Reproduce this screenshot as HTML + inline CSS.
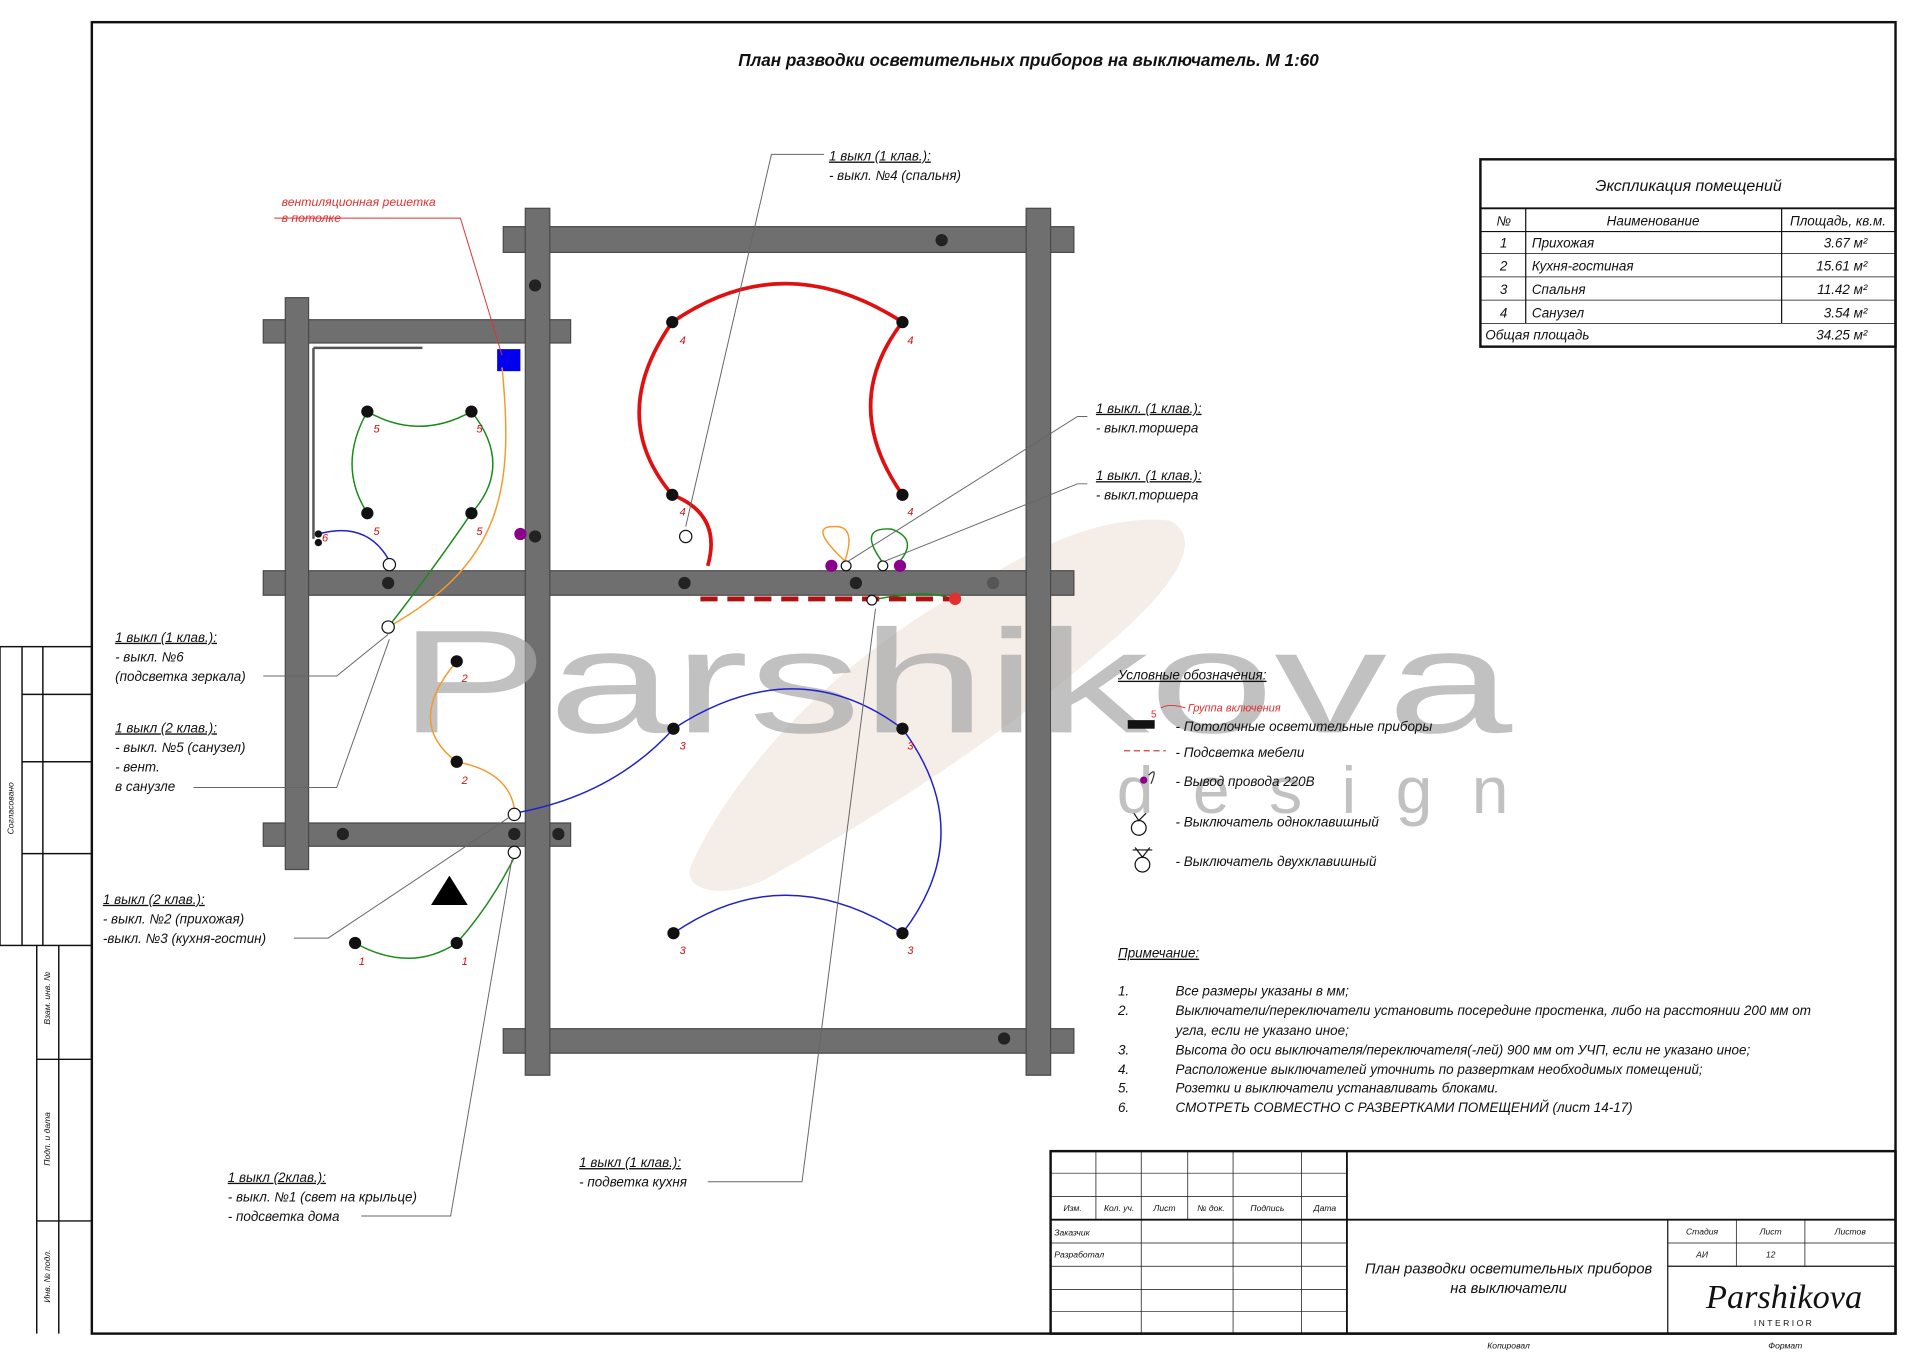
<!DOCTYPE html>
<html><head><meta charset="utf-8"><style>
html,body{margin:0;padding:0;background:#fff}
svg{display:block}
text{font-family:"Liberation Sans","DejaVu Sans",sans-serif;font-style:italic}
</style></head><body>
<svg width="1920" height="1357" viewBox="0 0 1568 1108" xmlns="http://www.w3.org/2000/svg" fill="#111">
<rect width="1568" height="1108" fill="#fff"/>
<!-- frame -->
<rect x="75" y="18" width="1473" height="1071" fill="none" stroke="#111" stroke-width="2"/>
<g stroke="#111" stroke-width="1.2" fill="none">
<rect x="0" y="528" width="75" height="244"/>
<line x1="18" y1="528" x2="18" y2="772"/><line x1="35" y1="528" x2="35" y2="772"/>
<line x1="18" y1="567" x2="75" y2="567"/><line x1="18" y1="622" x2="75" y2="622"/><line x1="18" y1="697" x2="75" y2="697"/>
<line x1="30" y1="772" x2="30" y2="1089"/><line x1="48" y1="772" x2="48" y2="1089"/>
<line x1="30" y1="865" x2="75" y2="865"/><line x1="30" y1="997" x2="75" y2="997"/>
</g>
<text transform="translate(11,660) rotate(-90)" font-size="7" text-anchor="middle">Согласовано</text>
<text transform="translate(41,815) rotate(-90)" font-size="7" text-anchor="middle">Взам. инв. №</text>
<text transform="translate(41,930) rotate(-90)" font-size="7" text-anchor="middle">Подп. и дата</text>
<text transform="translate(41,1042) rotate(-90)" font-size="7" text-anchor="middle">Инв. № подл.</text>

<text x="840" y="54" font-size="14" text-anchor="middle" font-weight="bold">План разводки осветительных приборов на выключатель. М 1:60</text>

<!-- watermark brush -->
<path d="M565 705 C610 610 700 530 790 480 C850 445 900 420 955 425 C985 440 960 480 900 530 C820 600 720 665 625 718 C590 735 555 728 565 705 Z" fill="#f5eee8"/>

<!-- walls -->
<g fill="#6f6f6f" stroke="#4a4a4a" stroke-width="1">
<rect x="411" y="185" width="466" height="21"/>
<rect x="215" y="261" width="251" height="19"/>
<rect x="215" y="466" width="662" height="20"/>
<rect x="215" y="672" width="251" height="19"/>
<rect x="411" y="840" width="466" height="20"/>
<rect x="838" y="170" width="20" height="708"/>
<rect x="429" y="170" width="20" height="708"/>
<rect x="233" y="243" width="19" height="467"/>
</g>
<path d="M256 284 H345 M256 284 V440" stroke="#555" stroke-width="2" fill="none"/>
<g fill="#222">
<circle cx="437" cy="233" r="5"/><circle cx="769" cy="196" r="5"/><circle cx="437" cy="438" r="5"/>
<circle cx="559" cy="476" r="5"/><circle cx="699" cy="476" r="5"/><circle cx="811" cy="476" r="5" fill="#555"/>
<circle cx="317" cy="476" r="5"/><circle cx="280" cy="681" r="5"/><circle cx="420" cy="681" r="5"/>
<circle cx="456" cy="681" r="5"/><circle cx="820" cy="848" r="5"/>
</g>
<rect x="406" y="285" width="19" height="18" fill="#0000ee"/>

<!-- watermark text -->
<text x="325" y="598" font-size="120" fill="#a6a6a6" fill-opacity="0.7" style="font-style:normal" textLength="910" lengthAdjust="spacingAndGlyphs">Parshikova</text>
<text x="912" y="664" font-size="54" fill="#a6a6a6" fill-opacity="0.7" style="font-style:normal" textLength="320" lengthAdjust="spacing">design</text>

<!-- wires -->
<g fill="none" stroke-width="1.2">
<path d="M300 336 Q342 360 385 336" stroke="#1a8a1a"/>
<path d="M300 336 Q275 380 300 419" stroke="#1a8a1a"/>
<path d="M385 336 Q420 380 385 419" stroke="#1a8a1a"/>
<path d="M385 419 Q350 470 317 512" stroke="#1a8a1a"/>
<path d="M410 300 C420 400 410 460 317 512" stroke="#f59a2a"/>
<path d="M260 436 Q300 425 318 458" stroke="#2020cc"/>
<path d="M373 540 Q330 590 373 622" stroke="#f59a2a"/>
<path d="M373 622 Q415 630 420 660" stroke="#f59a2a"/>
<path d="M420 664 Q500 650 550 595" stroke="#2020cc"/>
<path d="M550 595 Q650 530 737 595" stroke="#2020cc"/>
<path d="M737 595 Q800 680 737 762" stroke="#2020cc"/>
<path d="M550 762 Q640 700 737 762" stroke="#2020cc"/>
<path d="M420 700 Q400 740 373 770 Q335 795 290 770" stroke="#1a8a1a"/>
<path d="M549 404 Q590 420 578 462" stroke="#e01010" stroke-width="3"/>
<path d="M549 263 Q495 340 549 404" stroke="#e01010" stroke-width="3"/>
<path d="M549 263 Q640 200 737 263" stroke="#e01010" stroke-width="3"/>
<path d="M737 263 Q685 330 737 404" stroke="#e01010" stroke-width="3"/>
<path d="M690 458 Q660 430 680 430 Q700 428 690 458" stroke="#f59a2a"/>
<path d="M720 458 Q700 430 728 432 Q750 440 735 458" stroke="#1a8a1a"/>
<path d="M712 490 Q760 480 780 490" stroke="#1a8a1a"/>
<path d="M572 489 H780" stroke="#b01010" stroke-width="4" stroke-dasharray="14 8"/>
</g>
<circle cx="780" cy="489" r="5" fill="#e03030"/>
<!-- lamps -->
<g fill="#111">
<circle cx="300" cy="336" r="5"/><circle cx="385" cy="336" r="5"/><circle cx="300" cy="419" r="5"/><circle cx="385" cy="419" r="5"/>
<circle cx="373" cy="540" r="5"/><circle cx="373" cy="622" r="5"/>
<circle cx="549" cy="263" r="5"/><circle cx="737" cy="263" r="5"/><circle cx="549" cy="404" r="5"/><circle cx="737" cy="404" r="5"/>
<circle cx="550" cy="595" r="5"/><circle cx="737" cy="595" r="5"/><circle cx="550" cy="762" r="5"/><circle cx="737" cy="762" r="5"/>
<circle cx="290" cy="770" r="5"/><circle cx="373" cy="770" r="5"/>
<circle cx="260" cy="436" r="3"/><circle cx="260" cy="443" r="3"/>
</g>
<g fill="#8a008a"><circle cx="425" cy="436" r="5"/><circle cx="679" cy="462" r="5"/><circle cx="735" cy="462" r="5"/></g>
<g fill="#fff" stroke="#111" stroke-width="1">
<circle cx="318" cy="461" r="5"/><circle cx="317" cy="512" r="5"/><circle cx="420" cy="665" r="5"/><circle cx="420" cy="696" r="5"/>
<circle cx="560" cy="438" r="5"/><circle cx="691" cy="462" r="4"/><circle cx="721" cy="462" r="4"/><circle cx="712" cy="490" r="4"/>
</g>
<g font-size="9" fill="#d01010" style="font-style:normal">
<text x="305" y="353">5</text><text x="389" y="353">5</text><text x="305" y="437">5</text><text x="389" y="437">5</text>
<text x="263" y="442">6</text>
<text x="377" y="557">2</text><text x="377" y="640">2</text>
<text x="555" y="281">4</text><text x="741" y="281">4</text><text x="555" y="421">4</text><text x="741" y="421">4</text>
<text x="555" y="612">3</text><text x="741" y="612">3</text><text x="555" y="779">3</text><text x="741" y="779">3</text>
<text x="293" y="788">1</text><text x="377" y="788">1</text>
</g>
<polygon points="367,715 352,739 382,739" fill="#000"/>

<!-- leader lines -->
<g stroke="#666" stroke-width="0.8" fill="none">
<path d="M224 178 H376 L410 290" stroke="#e03030"/>
<path d="M673 126 H630 L560 430"/>
<path d="M888 340 H880 L693 458"/>
<path d="M888 395 H880 L723 458"/>
<path d="M215 552 H275 L317 518"/>
<path d="M158 643 H275 L318 522"/>
<path d="M240 766 H268 L415 668"/>
<path d="M295 993 H368 L418 702"/>
<path d="M578 965 H655 L715 497"/>
</g>
<g font-size="11">
<text x="230" y="168" fill="#e03030" font-size="10">вентиляционная решетка</text>
<text x="230" y="181" fill="#e03030" font-size="10">в потолке</text>
<text x="677" y="131" text-decoration="underline">1 выкл (1 клав.):</text>
<text x="677" y="147">- выкл. №4 (спальня)</text>
<text x="895" y="337" text-decoration="underline">1 выкл. (1 клав.):</text>
<text x="895" y="353">- выкл.торшера</text>
<text x="895" y="392" text-decoration="underline">1 выкл. (1 клав.):</text>
<text x="895" y="408">- выкл.торшера</text>
<text x="94" y="524" text-decoration="underline">1 выкл (1 клав.):</text>
<text x="94" y="540">- выкл. №6</text>
<text x="94" y="556">(подсветка зеркала)</text>
<text x="94" y="598" text-decoration="underline">1 выкл (2 клав.):</text>
<text x="94" y="614">- выкл. №5 (санузел)</text>
<text x="94" y="630">- вент.</text>
<text x="94" y="646">в санузле</text>
<text x="84" y="738" text-decoration="underline">1 выкл (2 клав.):</text>
<text x="84" y="754">- выкл. №2 (прихожая)</text>
<text x="84" y="770">-выкл. №3 (кухня-гостин)</text>
<text x="186" y="965" text-decoration="underline">1 выкл (2клав.):</text>
<text x="186" y="981">- выкл. №1 (свет на крыльце)</text>
<text x="186" y="997">- подсветка дома</text>
<text x="473" y="953" text-decoration="underline">1 выкл (1 клав.):</text>
<text x="473" y="969">- подветка кухня</text>
</g>

<!-- legend -->
<g font-size="11">
<text x="913" y="555" text-decoration="underline">Условные обозначения:</text>
<text x="970" y="581" fill="#e03030" font-size="9">Группа включения</text>
<text x="940" y="586" fill="#e03030" font-size="8" style="font-style:normal">5</text>
<path d="M948 578 Q955 574 968 578" stroke="#e03030" fill="none" stroke-width="0.8"/>
<rect x="921" y="588" width="22" height="7" fill="#111"/>
<text x="960" y="597">- Потолочные осветительные приборы</text>
<path d="M918 613 H952" stroke="#d04040" stroke-dasharray="5 3"/>
<text x="960" y="618">- Подсветка мебели</text>
<path d="M938 633 Q946 625 940 640" stroke="#333" fill="none"/>
<circle cx="934" cy="637" r="3" fill="#8a008a"/>
<text x="960" y="642">- Вывод провода 220В</text>
<circle cx="930" cy="676" r="6" fill="#fff" stroke="#111"/>
<path d="M926 664 L930 670 L936 664" stroke="#111" fill="none"/>
<text x="960" y="675">- Выключатель одноклавишный</text>
<circle cx="933" cy="706" r="6" fill="#fff" stroke="#111"/>
<path d="M927 692 L933 700 L939 692 M925 694 H941" stroke="#111" fill="none"/>
<text x="960" y="707">- Выключатель двухклавишный</text>
<text x="913" y="782" text-decoration="underline">Примечание:</text>
<text x="913" y="813">1.</text><text x="960" y="813">Все размеры указаны в мм;</text>
<text x="913" y="829">2.</text><text x="960" y="829">Выключатели/переключатели установить посередине простенка, либо на расстоянии 200 мм от</text>
<text x="960" y="845">угла, если не указано иное;</text>
<text x="913" y="861">3.</text><text x="960" y="861">Высота до оси выключателя/переключателя(-лей) 900 мм от УЧП, если не указано иное;</text>
<text x="913" y="877">4.</text><text x="960" y="877">Расположение выключателей уточнить по разверткам необходимых помещений;</text>
<text x="913" y="892">5.</text><text x="960" y="892">Розетки и выключатели устанавливать блоками.</text>
<text x="913" y="908">6.</text><text x="960" y="908">СМОТРЕТЬ СОВМЕСТНО С РАЗВЕРТКАМИ ПОМЕЩЕНИЙ (лист 14-17)</text>
</g>

<!-- explication table -->
<g stroke="#111" fill="none">
<rect x="1209" y="130" width="339" height="153" stroke-width="2"/>
<line x1="1209" y1="170" x2="1548" y2="170" stroke-width="1.5"/>
<line x1="1209" y1="189" x2="1548" y2="189" stroke-width="1"/>
<line x1="1209" y1="207" x2="1548" y2="207" stroke-width="0.6"/>
<line x1="1209" y1="226" x2="1548" y2="226" stroke-width="0.6"/>
<line x1="1209" y1="245" x2="1548" y2="245" stroke-width="0.6"/>
<line x1="1209" y1="264" x2="1548" y2="264" stroke-width="0.6"/>
<line x1="1246" y1="170" x2="1246" y2="264"/>
<line x1="1455" y1="170" x2="1455" y2="264"/>
</g>
<g font-size="11">
<text x="1379" y="156" text-anchor="middle" font-size="13">Экспликация помещений</text>
<text x="1228" y="184" text-anchor="middle">№</text>
<text x="1350" y="184" text-anchor="middle">Наименование</text>
<text x="1501" y="184" text-anchor="middle">Площадь, кв.м.</text>
<text x="1228" y="202" text-anchor="middle">1</text><text x="1251" y="202">Прихожая</text><text x="1525" y="202" text-anchor="end">3.67 м²</text>
<text x="1228" y="221" text-anchor="middle">2</text><text x="1251" y="221">Кухня-гостиная</text><text x="1525" y="221" text-anchor="end">15.61 м²</text>
<text x="1228" y="240" text-anchor="middle">3</text><text x="1251" y="240">Спальня</text><text x="1525" y="240" text-anchor="end">11.42 м²</text>
<text x="1228" y="259" text-anchor="middle">4</text><text x="1251" y="259">Санузел</text><text x="1525" y="259" text-anchor="end">3.54 м²</text>
<text x="1213" y="277">Общая площадь</text><text x="1525" y="277" text-anchor="end">34.25 м²</text>
</g>

<!-- title block -->
<g stroke="#111" fill="none">
<rect x="858" y="940" width="690" height="149" stroke-width="2"/>
<line x1="858" y1="996" x2="1548" y2="996" stroke-width="1.5"/>
<line x1="1100" y1="940" x2="1100" y2="1089" stroke-width="1.5"/>
<line x1="1362" y1="996" x2="1362" y2="1089" stroke-width="1"/>
<line x1="1362" y1="1034" x2="1548" y2="1034" stroke-width="1"/>
<line x1="1362" y1="1015" x2="1548" y2="1015" stroke-width="0.6"/>
<line x1="1418" y1="996" x2="1418" y2="1034" stroke-width="0.6"/>
<line x1="1474" y1="996" x2="1474" y2="1034" stroke-width="0.6"/>
<g stroke-width="0.6">
<line x1="858" y1="958" x2="1100" y2="958"/><line x1="858" y1="977" x2="1100" y2="977"/>
<line x1="858" y1="1015" x2="1100" y2="1015"/><line x1="858" y1="1034" x2="1100" y2="1034"/>
<line x1="858" y1="1053" x2="1100" y2="1053"/><line x1="858" y1="1071" x2="1100" y2="1071"/>
<line x1="895" y1="940" x2="895" y2="996"/><line x1="932" y1="940" x2="932" y2="1089"/>
<line x1="970" y1="940" x2="970" y2="996"/><line x1="1007" y1="940" x2="1007" y2="1089"/>
<line x1="1063" y1="940" x2="1063" y2="1089"/>
</g>
</g>
<g font-size="7">
<text x="876" y="989" text-anchor="middle">Изм.</text><text x="914" y="989" text-anchor="middle">Кол. уч.</text>
<text x="951" y="989" text-anchor="middle">Лист</text><text x="989" y="989" text-anchor="middle">№ док.</text>
<text x="1035" y="989" text-anchor="middle">Подпись</text><text x="1082" y="989" text-anchor="middle">Дата</text>
<text x="861" y="1009">Заказчик</text><text x="861" y="1027">Разработал</text>
<text x="1390" y="1008" text-anchor="middle">Стадия</text><text x="1446" y="1008" text-anchor="middle">Лист</text><text x="1511" y="1008" text-anchor="middle">Листов</text>
<text x="1390" y="1027" text-anchor="middle">АИ</text><text x="1446" y="1027" text-anchor="middle">12</text>
<text x="1232" y="1101" text-anchor="middle">Копировал</text><text x="1458" y="1101" text-anchor="middle">Формат</text>
</g>
<text x="1232" y="1040" font-size="12" text-anchor="middle">План разводки осветительных приборов</text>
<text x="1232" y="1056" font-size="12" text-anchor="middle">на выключатели</text>
<text x="1457" y="1068" font-size="28" text-anchor="middle" style="font-family:'Liberation Serif',serif">Parshikova</text>
<text x="1457" y="1083" font-size="7" text-anchor="middle" style="font-style:normal;letter-spacing:2px">INTERIOR</text>
</svg>
</body></html>
